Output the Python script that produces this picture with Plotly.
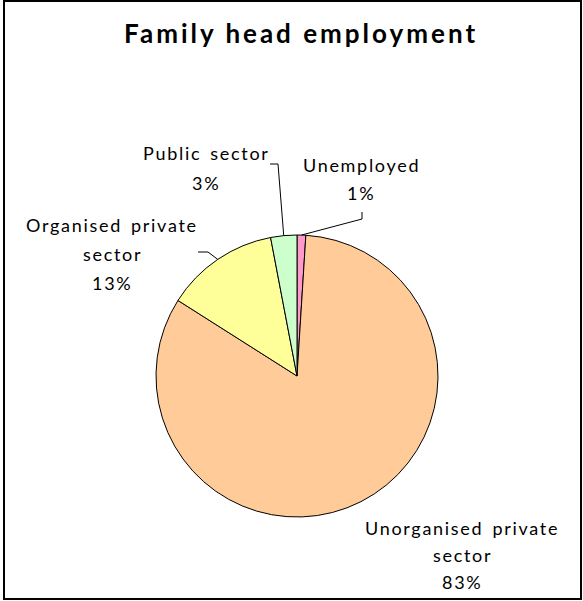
import math
import plotly.graph_objects as go

# Family head employment shares
labels = ["Unemployed", "Unorganised private sector", "Organised private sector", "Public sector"]
values = [1, 83, 13, 3]
label_lines = [["Unemployed"], ["Unorganised private", "sector"], ["Organised private", "sector"], ["Public sector"]]
colors = ["#FF99CC", "#FFCC99", "#FFFF99", "#CCFFCC"]

W, H = 583, 601
CX, CY, R = 297, 376, 141          # pie centre and radius in pixels
FONT = "Lato"

# label block: centre x, first-line y, line step (pixels)
label_pos = [(361, 165, 28), (462, 528, 27), (112, 225, 29), (206, 153, 30)]
# leader line start points (label side), elbow point or None
leaders = [[(362, 212), (362, 219)], None, [(198, 252), (208, 252)], [(270, 164), (278, 164)]]


def px(x, y):
    return x / W, 1 - y / H


def spaced(t, sp, word_sp=None):
    """Letter-spaced text; spaces between words can get extra room."""
    if word_sp is None:
        return f'<span style="letter-spacing:{sp}px">{t}</span>'
    words = t.split(" ")
    gap = f'<span style="letter-spacing:{word_sp}px"> </span>'
    return gap.join(f'<span style="letter-spacing:{sp}px">{w}</span>' for w in words)


total = sum(values)
fig = go.Figure(go.Pie(
    labels=labels, values=values, sort=False, direction="clockwise", rotation=0,
    marker=dict(colors=colors, line=dict(color="black", width=1)),
    textinfo="none", hoverinfo="label+percent", showlegend=False,
    domain=dict(x=[(CX - R) / W, (CX + R) / W], y=[1 - (CY + R) / H, 1 - (CY - R) / H]),
))

annotations = []
shapes = []
cum = 0
for lab, v, lines, (lx, ly, step), lead in zip(labels, values, label_lines, label_pos, leaders):
    pct = f"{round(v / total * 100)}%"
    for i, t in enumerate(lines + [pct]):
        x, y = px(lx, ly + i * step)
        annotations.append(dict(x=x, y=y, xref="paper", yref="paper", text=spaced(t, 1.7, 4.5),
                                showarrow=False, xanchor="center", yanchor="middle",
                                font=dict(family=FONT, size=18, color="black")))
    mid = (cum + v / 2) / total * 2 * math.pi
    cum += v
    if lead:
        ex, ey = CX + R * math.sin(mid), CY - R * math.cos(mid)
        pts = lead + [(ex, ey)]
        path = "M " + " L ".join(f"{px(a, b)[0]},{px(a, b)[1]}" for a, b in pts)
        shapes.append(dict(type="path", path=path, xref="paper", yref="paper",
                           line=dict(color="black", width=1)))

# chart frame
x0, y0 = px(4, 599)
x1, y1 = px(581, 1)
shapes.append(dict(type="rect", xref="paper", yref="paper", x0=x0, y0=y0, x1=x1, y1=y1,
                   line=dict(color="black", width=2)))

tx, ty = px(301, 33)
annotations.append(dict(x=tx, y=ty, xref="paper", yref="paper",
                        text=spaced("<b>Family head employment</b>", 3),
                        showarrow=False, xanchor="center", yanchor="middle",
                        font=dict(family=FONT, size=26, color="black")))

fig.update_layout(width=W, height=H, margin=dict(l=0, r=0, t=0, b=0),
                  paper_bgcolor="white", plot_bgcolor="white",
                  annotations=annotations, shapes=shapes)
fig.write_html("out.html")
